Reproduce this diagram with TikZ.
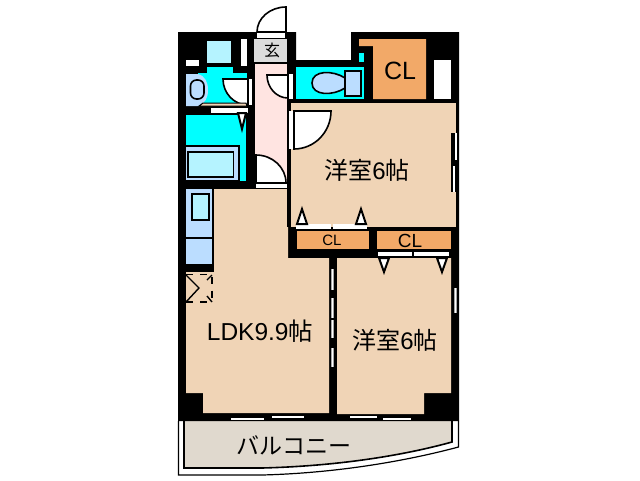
\documentclass[tikz,border=0pt]{standalone}
\usepackage{fontspec}
\setmainfont{Liberation Sans}
\newfontfamily\cjk{Noto Sans CJK JP}
\definecolor{roomc}{HTML}{F0D4B6}
\definecolor{closetc}{HTML}{F2A968}
\definecolor{wetc}{HTML}{00FFFF}
\definecolor{fixa}{HTML}{BBDDFF}
\definecolor{fixb}{HTML}{B5F3FF}
\definecolor{hallc}{HTML}{FFE4E1}
\definecolor{porchc}{HTML}{DCDCDC}
\definecolor{balc}{HTML}{E0D9CE}
\tikzset{
	fixture/.style={draw=black, line width=1.6pt},
	doorleaf/.style={draw=black, fill=white, line width=1.6pt},
	doortip/.style={draw=black, fill=white, line width=2pt},
	label/.style={inner sep=0pt, text=black},
	pane/.style={draw=gray!70, line width=3.4pt},
	glass/.style={draw=white, line width=1.8pt},
}
\begin{document}
\begin{tikzpicture}[x=1pt,y=-1pt]
	\useasboundingbox (0,0) rectangle (640,480);
	
	% Balcony
	\draw[line width=1.2pt, fill=white] (178.5,421) -- (178.5,475) -- (262,475) .. controls (340,473) and (410,460) .. (458.5,447) -- (458.5,421);
	\draw[line width=1.6pt, fill=balc] (184,421) -- (184,468) -- (262,468) .. controls (340,466) and (405,455) .. (452,442) -- (452,421);
	
	% Walls
	\fill[black] (178,32) -- (296,32) -- (296,60) -- (351,60) -- (351,32) -- (459,32) -- (459,421) -- (178,421) -- cycle;
	
	% Entrance and hall
	\fill[porchc] (254,39) rectangle (287,62);
	\fill[hallc] (254.5,64) rectangle (287,184);
	\fill[white] (257,33) rectangle (285,38);
	\draw[doorleaf] (286,32) -- (286,7) arc (-90:-180:29 and 25) -- cycle;
	\fill[white] (256,183) rectangle (287,188);
	\draw[doorleaf] (256,183) -- (256,155) arc (-90:0:30 and 28) -- cycle;
	\fill[white] (289,74) rectangle (293,99);
	\draw[doorleaf] (288,75) -- (267,75) arc (180:90:21 and 23) -- cycle;
	
	% Toilet
	\fill[wetc] (296,67) rectangle (364,99);
	\fill[wetc] (359,53) rectangle (364,62);
	\draw[fixture, fill=fixa] (345,78) .. controls (333,70) and (312,70) .. (312,83) .. controls (312,96) and (333,96) .. (345,88) -- cycle;
	\draw[fixture, fill=fixa] (345,71) rectangle (361,96);
	
	% Washroom
	\fill[fixb] (207,41) rectangle (231,63);
	\fill[white] (241,39) rectangle (247,66);
	\fill[white] (186,60) rectangle (199,66);
	\fill[wetc] (207,67) rectangle (233,74);
	\fill[wetc] (198,73) rectangle (247,105);
	\fill[fixa] (186,74) -- (198,74) .. controls (205,76) and (208,82) .. (208,90) .. controls (208,98) and (205,103) .. (199,106) -- (186,106) -- cycle;
	\draw[fixture, fill=fixa, rounded corners=6pt] (190.5,80) rectangle (204,99);
	\fill[white] (248,79) rectangle (252,105);
	\draw[doorleaf] (248,79) -- (223,79) arc (180:90:25 and 26) -- cycle;
	\draw[line width=1pt, fill=roomc] (203,103) -- (246,103) -- (247,106) -- (199,106) -- cycle;
	\fill[white] (211,108) rectangle (248,113);
	
	% Bath
	\fill[wetc] (186,115) rectangle (246,181);
	\draw[doortip] (238,113) -- (246,113) -- (242,129) -- cycle;
	\draw[fixture, fill=fixa] (185,146) rectangle (239,181);
	\draw[fixture, fill=fixb] (188,152) rectangle (233.5,177);
	
	% Rooms
	\fill[roomc] (213,189) -- (288,189) -- (288,258) -- (329,258) -- (329,413) -- (203,413) -- (203,393) -- (186,393) -- (186,272) -- (213,272) -- cycle;
	\fill[roomc] (291,103) rectangle (456,227);
	\fill[roomc] (337,258) -- (451,258) -- (451,393) -- (424,393) -- (424,414) -- (337,414) -- cycle;
	\fill[black] (287,189) rectangle (291,227);
	
	% Door of the upper room
	\fill[white] (289,111) rectangle (294,149);
	\draw[doorleaf] (294,111) -- (331,111) arc (0:90:37 and 38) -- cycle;
	
	% Kitchen
	\fill[fixa] (186,189) rectangle (212,264);
	\draw[line width=1.2pt] (186,238) -- (212,238);
	\draw[fixture, fill=fixb] (192,194) rectangle (209,220);
	\fill[black] (212,189) rectangle (214,264);
	\fill[black] (186,264) rectangle (214,272);
	\draw[line width=1.6pt, dash pattern=on 7pt off 7pt] (186,274.5) -- (212,274.5) -- (212,302);
	\draw[line width=1.6pt, dash pattern=on 7pt off 7pt] (186,302) -- (212,302);
	\draw[line width=1.4pt] (186,275) -- (199,288) -- (186,302);
	\draw[line width=1.4pt] (212,275) -- (207,280) (207,296) -- (212,302);
	
	% Closets
	\fill[closetc] (359,39) -- (426,39) -- (426,99) -- (373,99) -- (373,46) -- (359,46) -- cycle;
	\fill[white] (434,60) rectangle (451,99);
	\fill[closetc] (297,231) rectangle (369,249);
	\fill[closetc] (377,231) rectangle (451,249);
	
	% Sliding doors of the closets
	\fill[white] (296,224) rectangle (331,229);
	\fill[white] (333,224) rectangle (367,229);
	\fill[white] (378,252) rectangle (412,256);
	\fill[white] (414,252) rectangle (449,256);
	\foreach \tipx in {302,361}
		\draw[doortip] (\tipx-5,224) -- (\tipx,209) -- (\tipx+5,224) -- cycle;
	\foreach \tipx in {384,442}
		\draw[doortip] (\tipx-5,258) -- (\tipx,272) -- (\tipx+5,258) -- cycle;
	
	% Windows
	\foreach \winy/\wine in {269/290,298/318,320/338,348/367} {
		\draw[pane] (332.5,\winy) -- (332.5,\wine);
		\draw[glass] (332.5,\winy) -- (332.5,\wine);
	}
	\foreach \winx/\wine/\winy in {231/264/419,272/304/417,350/377/417,383/411/419}
		\draw[white, line width=2pt] (\winx,\winy) -- (\wine,\winy);
	\fill[black] (451,133) rectangle (457,192);
	\draw[glass] (456,133) -- (456,160) (454,166) -- (454,192);
	\draw[pane] (455.5,288) -- (455.5,313);
	\draw[glass] (455.5,288) -- (455.5,313);
	
	% Labels
	\node[label, font=\fontsize{24}{24}\selectfont] (west) at (367,170) {{\cjk 洋室}6{\cjk 帖}};
	\node[label, font=\fontsize{24}{24}\selectfont] (east) at (395,340) {{\cjk 洋室}6{\cjk 帖}};
	\node[label, font=\fontsize{24.5}{24}\selectfont] (ldk) at (260,331) {LDK9.9{\cjk 帖}};
	\node[label, font=\fontsize{23}{24}\selectfont] (balcony) at (294,445) {\cjk バルコニー};
	\node[label, font=\fontsize{25}{25}\selectfont] (clone) at (400,71) {CL};
	\node[label, font=\fontsize{15}{16}\selectfont] (cltwo) at (332,240) {CL};
	\node[label, font=\fontsize{19}{18}\selectfont] (clthree) at (410,241) {CL};
	\node[label, font=\fontsize{16}{16}\selectfont] (porch) at (272,50) {\cjk 玄};
\end{tikzpicture}
\end{document}
